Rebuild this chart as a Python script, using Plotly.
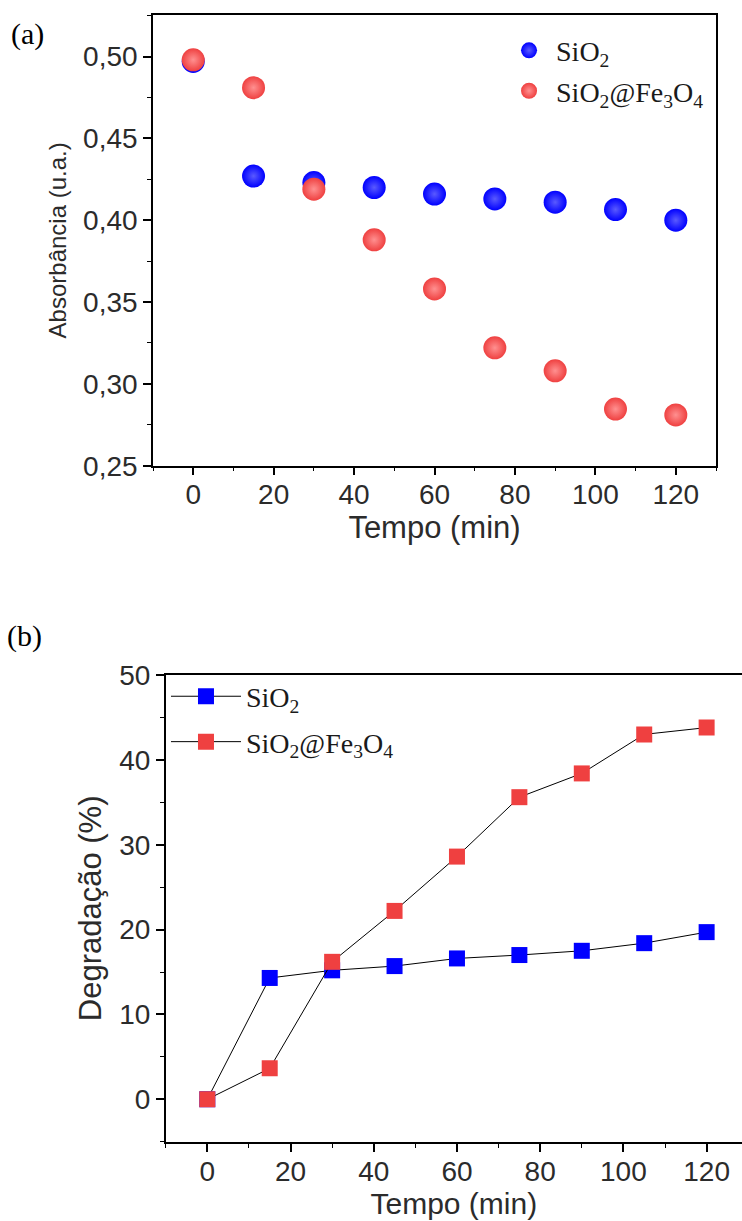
import plotly.graph_objects as go

# Reaction time (min)
tempo = [0, 15, 30, 45, 60, 75, 90, 105, 120]

# (a) Absorbance
abs_sio2 = [0.497, 0.427, 0.423, 0.420, 0.416, 0.413, 0.411, 0.4065, 0.400]
abs_sio2_fe = [0.498, 0.481, 0.419, 0.388, 0.358, 0.322, 0.308, 0.2846, 0.281]

# (b) Degradation (%)
deg_sio2 = [0.0, 14.3, 15.2, 15.7, 16.6, 17.0, 17.5, 18.4, 19.7]
deg_sio2_fe = [0.0, 3.65, 16.2, 22.2, 28.6, 35.6, 38.4, 43.0, 43.8]

name_sio2 = "SiO<sub>2</sub>"
name_sio2_fe = "SiO<sub>2</sub>@Fe<sub>3</sub>O<sub>4</sub>"

BLUE = "#0000FF"
RED = "#EF4040"
TXT = "#2b2b2b"
SANS = "Liberation Sans, Arial, sans-serif"
SERIF = "Liberation Serif, Times New Roman, serif"

fig = go.Figure()

# Panel (a): shaded spheres
fig.add_trace(go.Scatter(
    x=tempo, y=abs_sio2, mode="markers", name=name_sio2,
    xaxis="x", yaxis="y", legend="legend", legendgroup="a1",
    marker=dict(size=23, color=BLUE, line=dict(width=0),
                gradient=dict(type="radial", color="#5a5aff")),
))
fig.add_trace(go.Scatter(
    x=tempo, y=abs_sio2_fe, mode="markers", name=name_sio2_fe,
    xaxis="x", yaxis="y", legend="legend", legendgroup="a2",
    marker=dict(size=23, color=RED, line=dict(width=0),
                gradient=dict(type="radial", color="#ff9090")),
))

# Panel (b): line + square markers
fig.add_trace(go.Scatter(
    x=tempo, y=deg_sio2, mode="lines+markers", name=name_sio2,
    xaxis="x2", yaxis="y2", legend="legend2", legendgroup="b1",
    line=dict(color="black", width=1),
    marker=dict(symbol="square", size=16, color=BLUE, line=dict(width=0)),
))
fig.add_trace(go.Scatter(
    x=tempo, y=deg_sio2_fe, mode="lines+markers", name=name_sio2_fe,
    xaxis="x2", yaxis="y2", legend="legend2", legendgroup="b2",
    line=dict(color="black", width=1),
    marker=dict(symbol="square", size=16, color=RED, line=dict(width=0)),
))

axis_common = dict(
    showline=True, linecolor="black", linewidth=1.6,
    ticks="outside", ticklen=8, tickwidth=1.6, tickcolor="black",
    showgrid=False, zeroline=False, automargin=False,
)

fig.update_layout(
    width=742, height=1221,
    margin=dict(l=0, r=0, t=0, b=0, autoexpand=False),
    paper_bgcolor="white", plot_bgcolor="white",
    separators=",.",
    showlegend=True,
    xaxis=dict(
        **axis_common, domain=[0.2062, 0.965], anchor="y",
        range=[-10, 130], tick0=0, dtick=20, mirror=True, ticklabelstandoff=-5,
        minor=dict(ticks="outside", ticklen=4, tickwidth=1.4, tickcolor="black", dtick=10, tick0=0),
        tickfont=dict(family=SANS, size=28, color=TXT),
        title=dict(text="Tempo (min)", font=dict(family=SANS, size=31, color=TXT), standoff=0),
    ),
    yaxis=dict(
        **axis_common, domain=[0.6186, 0.9877], anchor="x",
        range=[0.25, 0.5254], tick0=0.25, dtick=0.05, tickformat=".2f", mirror=True,
        minor=dict(ticks="outside", ticklen=4, tickwidth=1.4, tickcolor="black", dtick=0.025, tick0=0.25),
        tickfont=dict(family=SANS, size=28, color=TXT),
        title=dict(text="Absorbância (u.a.)", font=dict(family=SANS, size=24, color=TXT), standoff=10),
    ),
    xaxis2=dict(
        **axis_common, domain=[0.2233, 1.0], anchor="y2",
        range=[-10, 128.5], tick0=0, dtick=20, mirror=True, ticklabelstandoff=-4,
        minor=dict(ticks="outside", ticklen=4, tickwidth=1.4, tickcolor="black", dtick=10, tick0=0),
        tickfont=dict(family=SANS, size=28, color=TXT),
        title=dict(text="Tempo (min)", font=dict(family=SANS, size=30, color=TXT), standoff=0),
    ),
    yaxis2=dict(
        **axis_common, domain=[0.0649, 0.4472], anchor="x2",
        range=[-5, 50], tick0=0, dtick=10,
        minor=dict(ticks="outside", ticklen=4, tickwidth=1.4, tickcolor="black", dtick=5, tick0=0),
        tickfont=dict(family=SANS, size=28, color=TXT),
        title=dict(text="Degradação (%)", font=dict(family=SANS, size=31, color=TXT), standoff=8),
    ),
    legend=dict(
        x=0.6766, y=0.979, xanchor="left", yanchor="top",
        bgcolor="rgba(0,0,0,0)", borderwidth=0,
        font=dict(family=SERIF, size=28, color="#1a1a1a"),
        itemwidth=44, tracegroupgap=1,
    ),
    legend2=dict(
        x=0.2237, y=0.45, xanchor="left", yanchor="top",
        bgcolor="rgba(0,0,0,0)", borderwidth=0,
        font=dict(family=SERIF, size=28, color="#1a1a1a"),
        itemwidth=70, tracegroupgap=6,
    ),
    annotations=[
        dict(text="(a)", x=27 / 742, y=1 - 34 / 1221, xref="paper", yref="paper",
             xanchor="center", yanchor="middle",
             showarrow=False, font=dict(family=SERIF, size=30, color="black")),
        dict(text="(b)", x=25 / 742, y=1 - 636 / 1221, xref="paper", yref="paper",
             xanchor="center", yanchor="middle",
             showarrow=False, font=dict(family=SERIF, size=30, color="black")),
    ],
)

fig.write_html("out.html")
